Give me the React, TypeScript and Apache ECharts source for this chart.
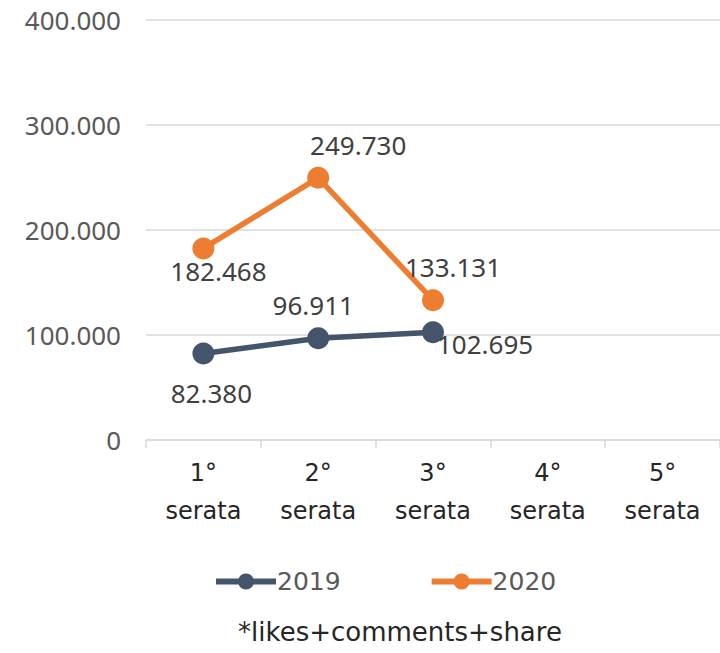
import React, { useEffect, useRef } from "react";
import * as echarts from "echarts";

const categories = ["1°\nserata", "2°\nserata", "3°\nserata", "4°\nserata", "5°\nserata"];
const series2019 = [82380, 96911, 102695];
const series2020 = [182468, 249730, 133131];
const labels2019Pos = ["bottom", "top", "right"];
const labels2020Pos = ["bottom", "top", "top"];
const yTicks = { min: 0, max: 400000, interval: 100000 };
const footnote = "*likes+comments+share";

const FONT = "'Noto Sans', sans-serif";
const WIDE = "'DejaVu Sans', sans-serif";
const FS = 26;

function fmt(v: number): string {
  if (v === 0) return "0";
  const s = Math.round(v).toString();
  return s.replace(/\B(?=(\d{3})+(?!\d))/g, ".");
}

const offsets2019 = [[8, 10], [-5, -4], [-12, 12]];
const offsets2020 = [[15, -6], [40, -4], [20, -4]];

export default function App() {
  const ref = useRef<HTMLDivElement>(null);
  useEffect(() => {
    if (!ref.current) return;
    const chart = echarts.init(ref.current, undefined, { renderer: "svg" });
    const d2019 = series2019.map((v, i) => ({
      value: v,
      label: { position: labels2019Pos[i], offset: offsets2019[i] },
    }));
    const d2020 = series2020.map((v, i) => ({
      value: v,
      label: { position: labels2020Pos[i], offset: offsets2020[i] },
    }));
    chart.setOption({
      animation: false,
      grid: { left: 146, right: 0, top: 20, bottom: 213, containLabel: false },
      xAxis: {
        type: "category",
        data: categories,
        boundaryGap: true,
        axisLine: { lineStyle: { color: "#d9d9d9", width: 1.5 } },
        axisTick: { show: true, length: 8, lineStyle: { color: "#d9d9d9", width: 1.5 } },
        axisLabel: {
          color: "#262626",
          fontFamily: WIDE,
          fontSize: 24,
          lineHeight: 38,
          margin: 14,
          interval: 0,
        },
      },
      yAxis: {
        type: "value",
        min: yTicks.min,
        max: yTicks.max,
        interval: yTicks.interval,
        axisLine: { show: false },
        axisTick: { show: false },
        splitLine: { lineStyle: { color: "#d9d9d9", width: 1.5 } },
        axisLabel: {
          color: "#595959",
          fontFamily: FONT,
          fontSize: FS,
          margin: 25,
          formatter: (v: number) => fmt(v),
        },
      },
      legend: {
        top: 564,
        left: 208,
        itemWidth: 60,
        itemHeight: 20,
        itemGap: 88,
        itemStyle: { borderWidth: 0 },
        lineStyle: { width: 6 },
        textStyle: { color: "#595959", fontFamily: WIDE, fontSize: 25, padding: [0, 0, 0, -4] },
        data: ["2019", "2020"],
      },
      graphic: [
        {
          type: "text",
          x: 400,
          y: 632,
          style: {
            text: footnote,
            fill: "#262626",
            font: `26px ${WIDE}`,
            textAlign: "center",
            textVerticalAlign: "middle",
          },
        },
      ],
      series: [
        {
          name: "2019",
          type: "line",
          data: d2019,
          symbol: "circle",
          symbolSize: 22,
          itemStyle: { color: "#44546a" },
          lineStyle: { color: "#44546a", width: 5.5 },
          label: {
            show: true,
            color: "#404040",
            fontFamily: FONT,
            fontSize: FS,
            formatter: (p: any) => fmt(p.value),
          },
        },
        {
          name: "2020",
          type: "line",
          data: d2020,
          symbol: "circle",
          symbolSize: 22,
          itemStyle: { color: "#ed7d31" },
          lineStyle: { color: "#ed7d31", width: 5.5 },
          label: {
            show: true,
            color: "#404040",
            fontFamily: FONT,
            fontSize: FS,
            formatter: (p: any) => fmt(p.value),
          },
        },
      ],
    });
    return () => chart.dispose();
  }, []);
  return (
    <div
      ref={ref}
      style={{ position: "absolute", left: 0, top: 0, width: 720, height: 653, background: "#fff" }}
    />
  );
}
